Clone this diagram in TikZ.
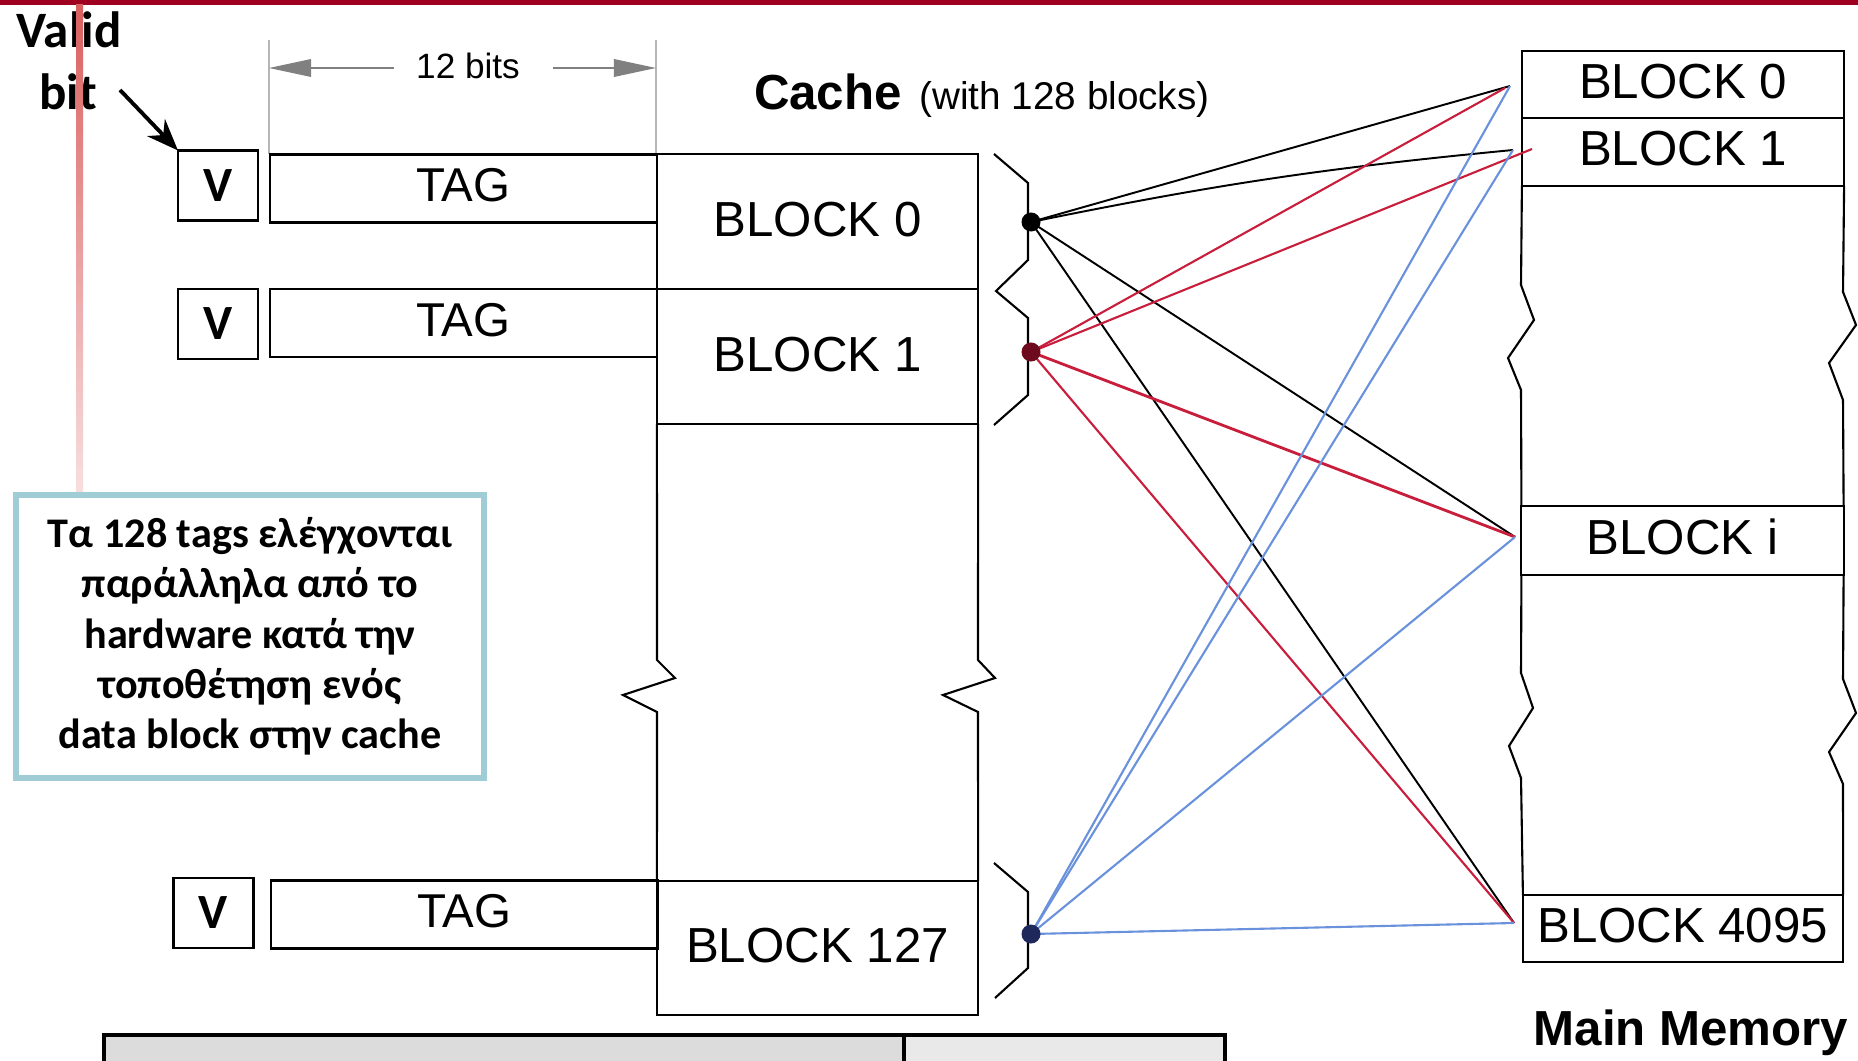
\documentclass[tikz,border=0pt]{standalone}
\usepackage{fontspec}
\setmainfont{Liberation Sans}
\newfontfamily\calib{Carlito}
\usetikzlibrary{arrows.meta,calc}
\definecolor{topbar}{RGB}{160,0,32}
\definecolor{sidered}{RGB}{218,95,95}
\definecolor{lnred}{RGB}{200,30,60}
\definecolor{lnblue}{RGB}{105,145,220}
\definecolor{boxteal}{RGB}{160,204,214}
\definecolor{dimgray}{RGB}{150,150,150}
\definecolor{cellA}{RGB}{220,220,220}
\definecolor{cellB}{RGB}{233,233,233}
\definecolor{dotred}{RGB}{110,10,30}
\definecolor{dotblue}{RGB}{30,40,90}
\begin{document}
\begin{tikzpicture}[x=0.01cm,y=-0.01cm,
  every node/.style={inner sep=0pt,outer sep=0pt},
  vbox/.style={draw,line width=0.8pt,minimum width=0.8cm,minimum height=0.7cm,font=\calib\bfseries\fontsize{14}{16}\selectfont},
  tagbox/.style={draw,line width=0.6pt,minimum width=3.87cm,minimum height=0.68cm,text depth=2pt,font=\fontsize{13.5}{16}\selectfont},
  cblock/.style={draw,line width=0.6pt,minimum width=3.21cm,minimum height=1.35cm,text depth=1.5pt,font=\fontsize{14}{16}\selectfont},
  mblock/.style={draw,line width=0.6pt,minimum width=3.22cm,minimum height=0.675cm,text depth=2pt,font=\fontsize{14}{16}\selectfont},
  outline/.style={line width=0.6pt},
  dotnode/.style={circle,minimum size=0.19cm},
  blk/.style={black,line width=0.55pt},
  redl/.style={lnred,line width=0.6pt},
  bluel/.style={lnblue,line width=0.6pt},
  dimline/.style={dimgray!85!black,line width=0.5pt}
]
\clip (0,0) rectangle (1858,1061);
\fill[white] (0,0) rectangle (1858,1061);
\fill[topbar] (0,0) rectangle (1858,5);

% dimension "12 bits"
\draw[dimgray!70,line width=0.4pt] (269,40) -- (269,154);
\draw[dimgray!70,line width=0.4pt] (656,40) -- (656,154);
\coordinate (dl) at (269,68);
\coordinate (dr) at (656,68);
\node (dimtxt) at (468,66) {\fontsize{10}{12}\selectfont 12 bits};
\draw[dimline,{Triangle[length=12pt,width=5pt]}-] (dl) -- ($(dimtxt.west|-dl)+(-22,0)$);
\draw[dimline,-{Triangle[length=12pt,width=5pt]}] ($(dimtxt.east|-dr)+(33,0)$) -- (dr);

% cache title
\node[anchor=base west] (cachettl) at (754,110) {\fontsize{14}{16}\selectfont\bfseries Cache\hspace{5pt}\fontsize{11}{13}\selectfont\mdseries(with 128 blocks)};

% valid bits
\node[vbox] (v1) at (218,185.5) {V};
\node[vbox] (v2) at (218,324) {V};
\node[vbox] (v3) at (213.5,913) {V};

% tags
\node[tagbox] (tag1) at (463.5,188.5) {TAG};
\node[tagbox] (tag2) at (463.5,323) {TAG};
\node[tagbox] (tag3) at (464.5,914.5) {TAG};

% cache blocks
\node[cblock] (cb0) at (817.5,221.5) {BLOCK 0};
\node[cblock] (cb1) at (817.5,356.5) {BLOCK 1};
\node[cblock,minimum height=1.34cm] (cb127) at (817.5,948) {BLOCK 127};
\draw[outline] (cb1.south west) -- (657,660) -- (675,678) -- (623,695) -- (657,712) -- (cb127.north west);
\draw[outline] (cb1.south east) -- (978,660) -- (995,678) -- (943,695) -- (978,712) -- (cb127.north east);

% braces
\draw[outline] (994,154) -- (1028,183) -- (1028,260) -- (996,291) -- (1028,318) -- (1028,395) -- (994,425);
\draw[outline] (994,863) -- (1028,892) -- (1028,968) -- (995,998);

% memory
\node[mblock] (m0) at (1683,84.5) {BLOCK 0};
\node[mblock] (m1) at (1683,152) {BLOCK 1};
\node[mblock,minimum height=0.69cm] (mi) at (1682.5,540.5) {BLOCK i};
\node[mblock,minimum width=3.2cm,minimum height=0.67cm] (m4095) at (1683,928.5) {BLOCK 4095};
\draw[outline] (m1.south west) -- (1521,285) -- (1534,320) -- (1508,358) -- (1521,390) -- (mi.north west);
\draw[outline] (m1.south east) -- (1843,292) -- (1856,325) -- (1829,363) -- (1843,400) -- (mi.north east);
\draw[outline] (mi.south west) -- (1521,673) -- (1533,708) -- (1509,746) -- (1521,778) -- (m4095.north west);
\draw[outline] (mi.south east) -- (1843,679) -- (1856,713) -- (1829,752) -- (1843,784) -- (m4095.north east);
\node[anchor=base] (mmttl) at (1691,1045) {\fontsize{14}{16}\selectfont\bfseries Main Memory};

% connector end points
\coordinate (t0) at (1510,86);
\coordinate (t0r) at (1505,88);
\coordinate (t1) at (1513,150);
\coordinate (t1r) at (1532,149);
\coordinate (ti) at (1515,537);
\coordinate (t4095) at (1514,923);

% dot centres
\coordinate (d0) at (1031,222);
\coordinate (d1) at (1031,352);
\coordinate (d127) at (1031,934);

\draw[blk] (d0) -- (t0);
\draw[blk] (d0) to[bend left=3] (t1);
\draw[blk] (d0) -- (ti);
\draw[blk] (d0) -- (t4095);
\draw[redl] (d1) -- (t0r);
\draw[redl] (d1) -- (t1r);
\draw[redl,line width=0.8pt] (d1) -- (ti);
\draw[redl] (d1) -- (t4095);
\draw[bluel] (d127) -- (t0);
\draw[bluel] (d127) -- (t1);
\draw[bluel] (d127) -- (ti);
\draw[bluel] (d127) -- (t4095);

\node[dotnode,fill=black] (dot0) at (d0) {};
\node[dotnode,fill=dotred] (dot1) at (d1) {};
\node[dotnode,fill=dotblue] (dot127) at (d127) {};

% valid bit label
\node[anchor=base] (validtxt) at (69,48) {\calib\bfseries\fontsize{14.5}{17}\selectfont Valid};
\node[anchor=base] (bittxt) at (68,110) {\calib\bfseries\fontsize{14.5}{17}\selectfont bit};
\coordinate (arrst) at (120,90);
\draw[line width=1.1pt,-{Stealth[length=9pt,width=7pt]}] (arrst) -- (v1.north west);

% side decoration line (behind the note box)
\shade[top color=sidered,bottom color=white] (76,5) rectangle (83,615);

% note box
\node[draw=boxteal,line width=1.8pt,fill=white,minimum width=4.68cm,minimum height=2.83cm,align=center,
  font=\calib\bfseries\fontsize{12}{14.3}\selectfont] (note) at (250,636.5)
  {Τα 128 tags ελέγχονται\\παράλληλα από το\\hardware κατά την\\τοποθέτηση ενός\\data block στην cache};

% bottom table (cut off)
\fill[cellA] (104,1035) rectangle (904,1075);
\fill[cellB] (904,1035) rectangle (1225,1075);
\draw[line width=1.4pt] (104,1075) -- (104,1035) -- (1225,1035) -- (1225,1075);
\draw[line width=1.4pt] (904,1035) -- (904,1075);
\end{tikzpicture}
\end{document}
